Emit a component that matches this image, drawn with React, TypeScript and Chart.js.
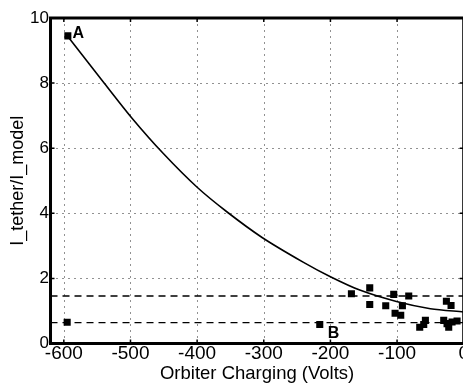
import React, { useEffect, useRef } from 'react';
import { Chart, registerables } from 'chart.js';

Chart.register(...registerables);

// ---- data ----
const xTickValues = [-600, -500, -400, -300, -200, -100, 0];
const yTickValues = [0, 2, 4, 6, 8, 10];
const xGridValues = [-600, -500, -400, -300, -200, -100];
const yGridValues = [2, 4, 6, 8];

const measuredX = [-594, -595, -216, -168.5, -141, -141, -117, -105, -103, -94.5, -92, -82.5, -66, -60, -57.5, -26, -19, -30, -25, -22.5, -17.5, -10];
const measuredY = [9.45, 0.655, 0.585, 1.53, 1.71, 1.2, 1.16, 1.51, 0.93, 0.87, 1.16, 1.46, 0.5, 0.585, 0.71, 1.3, 1.17, 0.71, 0.61, 0.5, 0.66, 0.69];

const fitX = [-594, -539, -498, -450, -400, -355, -302, -241, -200, -156, -101, -50, 0];
const fitY = [9.43, 7.99, 6.93, 5.82, 4.8, 4.04, 3.25, 2.5, 2.05, 1.64, 1.29, 1.07, 0.97];

const dashedLevels = [1.46, 0.64];
const dashedFromX = -620;
const dashedToX = 0;

const markerLabels = ['A', 'B'];
const markerX = [-587, -204];
const markerY = [9.38, 0.18];

const xTitle = 'Orbiter Charging (Volts)';
const yTitle = 'I_tether/I_model';
const FONT = "'Liberation Sans', Arial, Helvetica, sans-serif";

const gridPlugin = {
  id: 'dottedGrid',
  beforeDatasetsDraw(chart: any) {
    const { ctx, chartArea: a, scales } = chart;
    ctx.save();
    ctx.strokeStyle = '#222';
    ctx.lineWidth = 1;
    ctx.setLineDash([1, 5]);
    xGridValues.forEach((v) => {
      const px = Math.round(scales.x.getPixelForValue(v)) + 0.5;
      ctx.beginPath();
      ctx.moveTo(px, a.bottom);
      ctx.lineTo(px, a.top);
      ctx.stroke();
    });
    yGridValues.forEach((v) => {
      const py = Math.round(scales.y.getPixelForValue(v)) + 0.5;
      ctx.beginPath();
      ctx.moveTo(a.left, py);
      ctx.lineTo(a.right, py);
      ctx.stroke();
    });
    ctx.restore();
  },
};

const framePlugin = {
  id: 'frame',
  afterDatasetsDraw(chart: any) {
    const { ctx, chartArea: a, scales } = chart;
    const xs = scales.x;
    const ys = scales.y;
    ctx.save();
    ctx.strokeStyle = '#000';
    ctx.lineWidth = 1.5;
    ctx.setLineDash([]);
    xTickValues.forEach((v) => {
      const px = xs.getPixelForValue(v);
      ctx.beginPath();
      ctx.moveTo(px, a.bottom);
      ctx.lineTo(px, a.bottom - 4);
      ctx.moveTo(px, a.top);
      ctx.lineTo(px, a.top + 4);
      ctx.stroke();
    });
    yTickValues.forEach((v) => {
      const py = ys.getPixelForValue(v);
      ctx.beginPath();
      ctx.moveTo(a.left, py);
      ctx.lineTo(a.left + 4, py);
      ctx.moveTo(a.right, py);
      ctx.lineTo(a.right - 4, py);
      ctx.stroke();
    });
    ctx.lineWidth = 3;
    ctx.strokeRect(a.left, a.top, a.right - a.left, a.bottom - a.top);
    ctx.fillStyle = '#000';
    ctx.font = `bold 16px ${FONT}`;
    ctx.textAlign = 'left';
    ctx.textBaseline = 'alphabetic';
    markerLabels.forEach((t, i) => {
      ctx.fillText(t, xs.getPixelForValue(markerX[i]), ys.getPixelForValue(markerY[i]));
    });
    ctx.restore();
  },
};

export default function App() {
  const ref = useRef<HTMLCanvasElement | null>(null);
  useEffect(() => {
    if (!ref.current) return;
    const datasets: any[] = [
      {
        type: 'scatter',
        label: 'measured',
        data: measuredX.map((x, i) => ({ x, y: measuredY[i] })),
        pointStyle: 'rect',
        pointRadius: 5,
        backgroundColor: '#000',
        borderColor: '#000',
        borderWidth: 0,
        order: 1,
      },
      {
        type: 'line',
        label: 'fit',
        data: fitX.map((x, i) => ({ x, y: fitY[i] })),
        borderColor: '#000',
        borderWidth: 1.6,
        pointRadius: 0,
        tension: 0.3,
        fill: false,
        order: 2,
      },
      ...dashedLevels.map((lv) => ({
        type: 'line',
        label: 'level',
        data: [
          { x: dashedFromX, y: lv },
          { x: dashedToX, y: lv },
        ],
        borderColor: '#000',
        borderWidth: 1.4,
        borderDash: [7, 5],
        pointRadius: 0,
        fill: false,
        order: 3,
      })),
    ];
    const chart = new Chart(ref.current, {
      type: 'scatter',
      data: { datasets },
      options: {
        animation: false,
        responsive: false,
        devicePixelRatio: 1,
        layout: { padding: { left: 7, right: 0, top: 18, bottom: 0 } },
        plugins: { legend: { display: false }, tooltip: { enabled: false } },
        scales: {
          x: {
            type: 'linear',
            min: -620,
            max: 0,
            afterBuildTicks: (s: any) => {
              s.ticks = xTickValues.map((v) => ({ value: v }));
            },
            ticks: {
              color: '#000',
              font: { family: FONT, size: 19, lineHeight: 1 },
              padding: 1,
              maxRotation: 0,
              autoSkip: false,
            },
            grid: { display: false, drawTicks: false },
            border: { display: false },
            title: {
              display: true,
              text: xTitle,
              color: '#000',
              font: { family: FONT, size: 18.5, lineHeight: 1 },
              padding: { top: 0, bottom: 1 },
            },
          },
          y: {
            type: 'linear',
            min: 0,
            max: 10,
            afterBuildTicks: (s: any) => {
              s.ticks = yTickValues.map((v) => ({ value: v }));
            },
            ticks: {
              color: '#000',
              font: { family: FONT, size: 17, lineHeight: 1 },
              padding: 1.5,
              autoSkip: false,
            },
            grid: { display: false, drawTicks: false },
            border: { display: false },
            title: {
              display: true,
              text: yTitle,
              color: '#000',
              font: { family: FONT, size: 18, lineHeight: 1.2 },
              padding: { top: 0, bottom: 0 },
            },
          },
        },
      },
      plugins: [gridPlugin, framePlugin],
    } as any);
    return () => chart.destroy();
  }, []);
  return (
    <div style={{ position: 'fixed', left: 0, top: 0, width: 463, height: 384, overflow: 'hidden', background: '#fff' }}>
      <canvas ref={ref} width={470} height={384} style={{ display: 'block' }} />
    </div>
  );
}
